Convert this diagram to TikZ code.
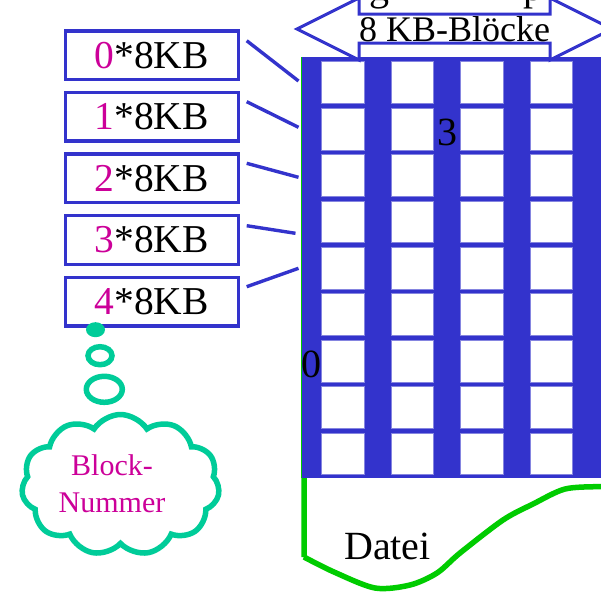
\documentclass[tikz,border=0pt]{standalone}
\usepackage{fontspec}
\setmainfont{Liberation Serif}
\usetikzlibrary{shapes.symbols}
\definecolor{gblue}{RGB}{51,51,204}
\definecolor{gmag}{RGB}{204,0,153}
\definecolor{gteal}{RGB}{0,204,153}
\definecolor{ggreen}{RGB}{0,204,0}
\tikzset{
  kbbox/.style={draw=gblue, line width=3.4pt, fill=white, minimum width=173pt, minimum height=48.7pt, inner sep=0pt, font=\fontsize{39.5}{44}\selectfont},
  conn/.style={draw=gblue, line width=3.4pt},
  bigtxt/.style={inner sep=0pt, font=\fontsize{40}{46}\selectfont},
  cell/.style={fill=white, draw=gblue!60, line width=0.6pt},
  bubble/.style={draw=gteal, line width=5.5pt}
}
\begin{document}
\begin{tikzpicture}[x=1pt,y=-1pt]
\useasboundingbox (0,0) rectangle (601,595);
\clip (0,0) rectangle (601,595);
\fill[white] (0,0) rectangle (601,595);
% grid of blocks
\draw[ggreen, line width=1pt] (301,478) -- (301,57) -- (610,57);
\fill[gblue] (302,57) rectangle (610,478);
\foreach \cx in {321.7,391,460.7,530} {
  \foreach \i in {0,...,8} {
    \path[cell] (\cx,61.7+46.4*\i) rectangle ++(42.5,41.8);
  }
}
% file outline
\draw[ggreen, line width=5.5pt, line join=round] (304,478) -- (304,557)
  plot[smooth, tension=0.5] coordinates {(304,557) (334,572) (375,588) (410,585) (437,573) (460,553) (503,520) (533,504) (565,489) (601,486.5) (620,486)};
\node[bigtxt, anchor=base west] (datei) at (344,559.3) {Datei};
\node[bigtxt, anchor=base] (three) at (447,145) {3};
\node[bigtxt, anchor=base west] (zero) at (301.7,377.3) {0};
% fragments of text above the picture
\node[bigtxt, anchor=base west] (fragg) at (369,0) {g};
\node[bigtxt, anchor=base west] (fragp) at (523,0) {p};
% double arrow
\draw[gblue, line width=3pt, fill=white, line join=miter]
  (359,14) -- (359,-2) -- (297,29) -- (359,60) -- (359,43) -- (550,43) -- (550,60) -- (612,29) -- (550,-2) -- (550,14) -- cycle;
\node[inner sep=0pt, anchor=base, font=\fontsize{36}{42}\selectfont] (blk) at (454.7,41.7) {8 KB-Blöcke};
% offset boxes
\node[kbbox] (b0) at (151.7,55.2) {\textcolor{gmag}{0}*8KB};
\node[kbbox] (b1) at (151.7,116.8) {\textcolor{gmag}{1}*8KB};
\node[kbbox] (b2) at (151.7,178.4) {\textcolor{gmag}{2}*8KB};
\node[kbbox] (b3) at (151.7,240.0) {\textcolor{gmag}{3}*8KB};
\node[kbbox] (b4) at (151.7,301.6) {\textcolor{gmag}{4}*8KB};
% connectors
\coordinate (s0) at (246.7,40.7);  \coordinate (e0) at (298.5,81);
\coordinate (s1) at (246.7,101.7); \coordinate (e1) at (298.5,127.3);
\coordinate (s2) at (246.7,163.3); \coordinate (e2) at (298.5,177.3);
\coordinate (s3) at (246.7,225.7); \coordinate (e3) at (295.5,233.3);
\coordinate (s4) at (246.7,286.7); \coordinate (e4) at (298.5,268.3);
\foreach \k in {0,...,4} { \draw[conn] (s\k) -- (e\k); }
% thought bubble
\fill[gteal] (95.5,329.7) ellipse [x radius=9.5pt, y radius=7.5pt];
\draw[bubble] (100,355.7) ellipse [x radius=12pt, y radius=9pt];
\draw[bubble] (104.3,389.3) ellipse [x radius=18pt, y radius=13pt];
\node[bubble, cloud, cloud puffs=11, cloud puff arc=115, aspect=1.4, minimum width=198pt, minimum height=141pt, inner sep=0pt] (cloud) at (120.5,485) {};
\node[inner sep=0pt, align=center, text=gmag, font=\fontsize{30}{36.7}\selectfont] (cltxt) at (112,484) {Block-\\Nummer};
\end{tikzpicture}
\end{document}
